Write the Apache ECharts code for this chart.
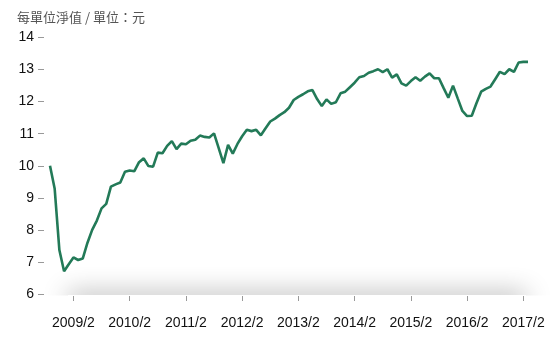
<!DOCTYPE html>
<html>
<head>
<meta charset="utf-8">
<script src="https://cdn.jsdelivr.net/npm/echarts@6/dist/echarts.min.js"></script>
<style>
html,body{margin:0;padding:0;background:#fff;}
#c{width:557px;height:338px;}
</style>
</head>
<body>
<div id="c"></div>
<script>
// Monthly NAV, 2008/9 .. 2017/3
var startYear = 2008, startMonth = 9;
var navValues = [
  10.00, 9.28, 7.37, 6.71,
  6.93, 7.14, 7.06, 7.11, 7.60, 8.00, 8.29, 8.67, 8.81, 9.35, 9.42, 9.48,
  9.81, 9.85, 9.83, 10.11, 10.23, 9.99, 9.97, 10.41, 10.39, 10.62, 10.77, 10.52,
  10.69, 10.67, 10.78, 10.81, 10.94, 10.90, 10.88, 11.01, 10.55, 10.08, 10.65, 10.38,
  10.68, 10.92, 11.12, 11.08, 11.12, 10.95, 11.17, 11.38, 11.47, 11.58, 11.67, 11.81,
  12.05, 12.15, 12.23, 12.32, 12.36, 12.08, 11.86, 12.07, 11.93, 11.98, 12.26, 12.31,
  12.45, 12.59, 12.76, 12.80, 12.90, 12.95, 13.01, 12.92, 13.01, 12.75, 12.85, 12.57,
  12.50, 12.64, 12.76, 12.65, 12.78, 12.88, 12.73, 12.73, 12.42, 12.12, 12.50, 12.10,
  11.71, 11.55, 11.56, 11.95, 12.31, 12.40, 12.47, 12.70, 12.93, 12.86, 13.01, 12.93,
  13.22, 13.24, 13.24
];
var yTicks = [6, 7, 8, 9, 10, 11, 12, 13, 14];
var titleText = '每單位淨值 / 單位：元';

var categories = [];
(function(){
  var y = startYear, m = startMonth;
  for (var i = 0; i < navValues.length; i++) {
    categories.push(y + '/' + m);
    m++; if (m > 12) { m = 1; y++; }
  }
})();
function isFeb(idx){ return /\/2$/.test(categories[idx]); }

var chart = echarts.init(document.getElementById('c'), null, {renderer:'canvas'});
chart.setOption({
  backgroundColor: '#fff',
  animation: false,
  title: {
    text: titleText,
    left: 17, top: 11, padding: 0,
    textStyle: {fontSize: 13, fontWeight: 'normal', color: '#555', fontFamily: 'Noto Sans CJK TC, sans-serif'}
  },
  grid: {left: 50, right: 29, top: 37.5, bottom: 44, containLabel: false},
  xAxis: {
    type: 'category',
    data: categories,
    boundaryGap: false,
    offset: 2,
    axisLine: {show: true, lineStyle: {color: 'rgba(0,0,0,0)'}},
    axisTick: {show: true, length: 5, interval: function(i){ return isFeb(i); }, lineStyle: {color: '#999'}},
    axisLabel: {show: true, interval: function(i){ return isFeb(i); }, margin: 20, fontSize: 14, color: '#111', fontFamily: 'Liberation Sans, Arial, sans-serif'},
    splitLine: {show: false}
  },
  yAxis: {
    type: 'value',
    min: yTicks[0], max: yTicks[yTicks.length-1], interval: 1,
    offset: 6,
    axisLine: {show: true, lineStyle: {color: 'rgba(0,0,0,0)'}},
    axisTick: {show: true, length: 6, lineStyle: {color: '#999'}},
    axisLabel: {margin: 10, fontSize: 14, color: '#111', fontFamily: 'Liberation Sans, Arial, sans-serif'},
    splitLine: {show: false}
  },
  graphic: [
    {type: 'rect', z: -2, shape: {x: 68, y: 295, width: 458, height: 10},
     style: {fill: '#fff', shadowBlur: 26, shadowColor: 'rgba(0,0,0,0.45)', shadowOffsetY: 0}},
    {type: 'rect', z: -1, shape: {x: 0, y: 295.5, width: 557, height: 43},
     style: {fill: '#fff'}}
  ],
  series: [{
    type: 'line',
    data: navValues,
    showSymbol: false,
    symbol: 'none',
    lineStyle: {color: '#237a58', width: 2.6},
    itemStyle: {color: '#237a58'}
  }]
});
</script>
</body>
</html>
